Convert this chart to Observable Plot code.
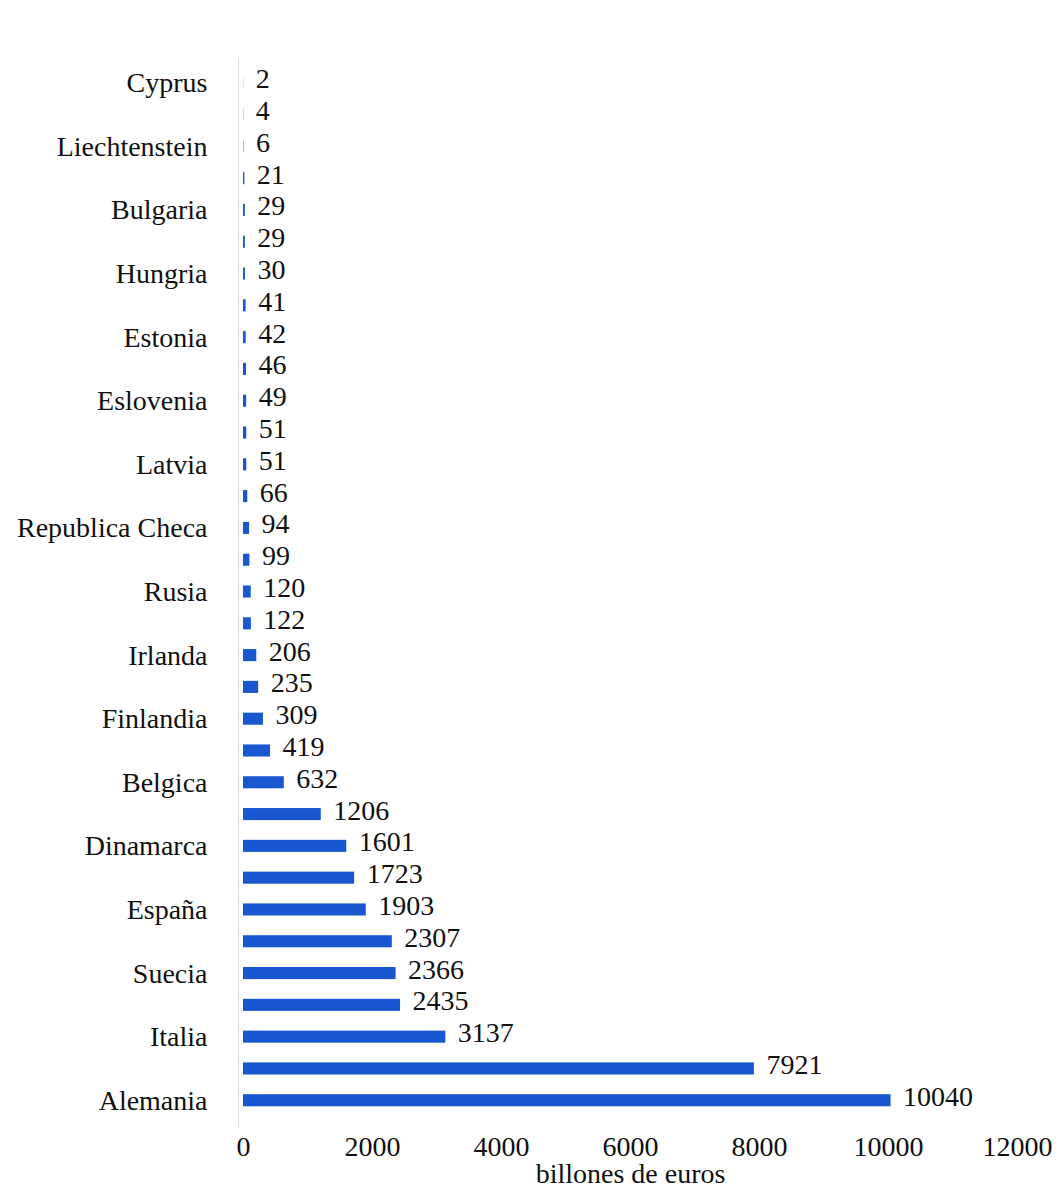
<!DOCTYPE html>
<html>
<head>
<meta charset="utf-8">
<script src="https://cdn.jsdelivr.net/npm/d3@7"></script>
<script src="https://cdn.jsdelivr.net/npm/@observablehq/plot@0.6"></script>
<style>
  html, body { margin: 0; padding: 0; background: #ffffff; }
  #chart { width: 1060px; height: 1188px; }
</style>
</head>
<body>
<div id="chart"></div>
<script>
// Category labels (only every other bar is labelled in the original)
const labels = ["Cyprus", "", "Liechtenstein", "", "Bulgaria", "", "Hungria", "", "Estonia", "", "Eslovenia", "", "Latvia", "", "Republica Checa", "", "Rusia", "", "Irlanda", "", "Finlandia", "", "Belgica", "", "Dinamarca", "", "España", "", "Suecia", "", "Italia", "", "Alemania"];
// Values (billones de euros), top to bottom
const values = [2, 4, 6, 21, 29, 29, 30, 41, 42, 46, 49, 51, 51, 66, 94, 99, 120, 122, 206, 235, 309, 419, 632, 1206, 1601, 1723, 1903, 2307, 2366, 2435, 3137, 7921, 10040];
// X axis ticks
const xTicks = [0, 2000, 4000, 6000, 8000, 10000, 12000];
const xDomain = [0, 12000];
const axisTitle = "billones de euros";

const data = values.map((v, i) => ({ i, v, label: labels[i] }));

const chart = Plot.plot({
  width: 1060,
  height: 1188,
  marginLeft: 243,
  marginRight: 43,
  marginTop: 57,
  marginBottom: 62,
  style: { fontFamily: "'Liberation Serif', 'Times New Roman', serif", fontSize: "28px", color: "#111", background: "#ffffff" },
  x: { domain: xDomain, ticks: xTicks, label: null },
  y: { domain: d3.range(values.length), padding: 0.62, round: false, label: null },
  marks: [
    Plot.ruleX([0], { dx: -5, stroke: "#d6dce4", strokeWidth: 1 }),
    Plot.barX(data, { x: "v", y: "i", fill: "#1857cf" }),
    Plot.text(data, { x: "v", y: "i", text: d => String(d.v), textAnchor: "start", dx: 12, dy: -4, fontSize: 28, fill: "#111" }),
    Plot.axisX({ ticks: xTicks, tickSize: 0, tickPadding: 10, tickFormat: d => String(d), label: null, fontSize: 28 }),
    Plot.axisY({ tickSize: 0, tickPadding: 36, tickFormat: i => labels[i], label: null, fontSize: 28 }),
    Plot.text([axisTitle], { frameAnchor: "bottom", lineAnchor: "bottom", dy: 56, fontSize: 28, fill: "#111" })
  ]
});
document.getElementById("chart").appendChild(chart);
</script>
</body>
</html>
